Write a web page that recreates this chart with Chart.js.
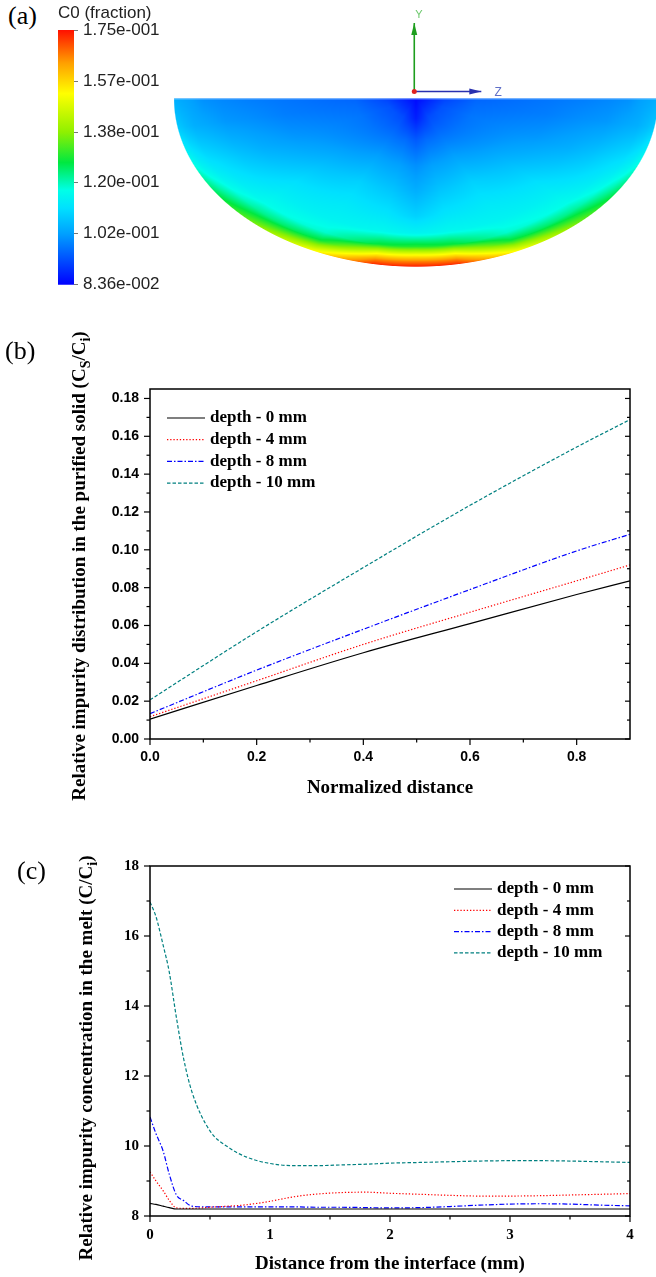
<!DOCTYPE html>
<html>
<head>
<meta charset="utf-8">
<script src="https://cdn.jsdelivr.net/npm/chart.js@4.4.1/dist/chart.umd.min.js"></script>
<style>
  body { margin: 0; background: #fff; }
  #page { position: relative; width: 656px; height: 1277px; overflow: hidden; background: #fff; }
  canvas { position: absolute; }
  .tag { position: absolute; font: 26px/26px 'Liberation Serif', serif; color: #000; }
</style>
</head>
<body>
<div id="page">
  <canvas id="bar" width="130" height="300" style="left:58px;top:0"></canvas>
  <canvas id="pool" width="482" height="270" style="left:174px;top:0"></canvas>
  <canvas id="solid" width="656" height="500" style="left:0;top:310px"></canvas>
  <canvas id="melt" width="656" height="467" style="left:0;top:810px"></canvas>
  <div class="tag" style="left:8px;top:3px">(a)</div>
  <div class="tag" style="left:5px;top:338px">(b)</div>
  <div class="tag" style="left:17px;top:858px">(c)</div>
</div>
<script>
// (a) colour bar ticks and colour map
const cbTicks = [0.0836, 0.1019, 0.1202, 0.1384, 0.1567, 0.175];
const cmapPos = [0, 0.1, 0.2, 0.3, 0.37, 0.48, 0.6, 0.75, 0.87, 1];
const cmapHex = ['#0000ff', '#0050ff', '#00a0ff', '#00e0ff', '#00ffe8', '#00e840', '#90f000', '#ffff00', '#ffa000', '#ff1000'];

// (a) concentration in the pool, read along rays (angle from the downward axis) at fractions of the wall radius
const fieldTheta = [0, 10, 25, 45, 65, 80, 90];
const fieldRho = [0, 0.12, 0.25, 0.4, 0.55, 0.7, 0.8, 0.88, 0.93, 0.97, 1.0];
const ray0 = [0.0845, 0.087, 0.094, 0.100, 0.104, 0.109, 0.115, 0.130, 0.152, 0.166, 0.174];
const ray10 = [0.0845, 0.089, 0.096, 0.102, 0.107, 0.112, 0.116, 0.128, 0.150, 0.165, 0.173];
const ray25 = [0.0845, 0.092, 0.097, 0.103, 0.109, 0.113, 0.115, 0.119, 0.128, 0.142, 0.152];
const ray45 = [0.0845, 0.093, 0.097, 0.101, 0.106, 0.111, 0.114, 0.117, 0.122, 0.129, 0.134];
const ray65 = [0.0845, 0.093, 0.097, 0.099, 0.101, 0.104, 0.107, 0.110, 0.112, 0.115, 0.119];
const ray80 = [0.0845, 0.092, 0.096, 0.097, 0.098, 0.100, 0.101, 0.103, 0.104, 0.106, 0.108];
const ray90 = [0.0845, 0.091, 0.095, 0.096, 0.097, 0.098, 0.099, 0.100, 0.102, 0.103, 0.104];
const fieldRows = [ray0, ray10, ray25, ray45, ray65, ray80, ray90];

// legend labels
const depthLabels = ['depth - 0 mm', 'depth - 4 mm', 'depth - 8 mm', 'depth - 10 mm'];

// (b) purified solid
const distB = [0, 0.2, 0.4, 0.6, 0.8, 0.9];
const solid0 = [0.0105, 0.0283, 0.0456, 0.0610, 0.0764, 0.0836];
const solid4 = [0.0118, 0.0308, 0.0500, 0.0670, 0.0836, 0.0920];
const solid8 = [0.0134, 0.0364, 0.0580, 0.0790, 0.0994, 0.1082];
const solid10 = [0.0207, 0.0567, 0.0906, 0.1235, 0.1543, 0.1688];
const ticksBX = [0, 0.2, 0.4, 0.6, 0.8];
const minorBX = [0.1, 0.3, 0.5, 0.7];
const ticksBY = [0, 0.02, 0.04, 0.06, 0.08, 0.10, 0.12, 0.14, 0.16, 0.18];
const minorBY = [0.01, 0.03, 0.05, 0.07, 0.09, 0.11, 0.13, 0.15, 0.17];

// (c) melt
const distC = [0, 0.05, 0.11, 0.16, 0.22, 0.28, 0.35, 0.5, 0.65, 0.8, 1.0, 1.2, 1.4, 1.6, 1.8, 2.0, 2.25, 2.5, 2.75, 3.0, 3.25, 3.5, 3.75, 4.0];
const melt0 = [8.36, 8.33, 8.28, 8.24, 8.20, 8.20, 8.20, 8.20, 8.20, 8.20, 8.20, 8.20, 8.20, 8.20, 8.20, 8.20, 8.20, 8.20, 8.20, 8.20, 8.20, 8.20, 8.20, 8.20];
const melt4 = [9.26, 9.00, 8.72, 8.45, 8.23, 8.22, 8.22, 8.25, 8.28, 8.32, 8.42, 8.55, 8.63, 8.67, 8.68, 8.65, 8.62, 8.59, 8.57, 8.57, 8.58, 8.60, 8.62, 8.64];
const melt8 = [10.83, 10.35, 9.85, 9.20, 8.60, 8.44, 8.28, 8.26, 8.26, 8.26, 8.26, 8.26, 8.25, 8.25, 8.24, 8.23, 8.24, 8.27, 8.31, 8.34, 8.35, 8.34, 8.31, 8.29];
const melt10 = [16.97, 16.55, 15.73, 14.98, 13.67, 12.50, 11.54, 10.43, 9.97, 9.69, 9.50, 9.44, 9.44, 9.46, 9.48, 9.51, 9.53, 9.55, 9.57, 9.58, 9.58, 9.57, 9.55, 9.53];
const ticksCX = [0, 1, 2, 3, 4];
const minorCX = [0.5, 1.5, 2.5, 3.5];
const ticksCY = [8, 10, 12, 14, 16, 18];
const minorCY = [9, 11, 13, 15, 17];

const lineColors = ['#000000', '#ff0000', '#0000ff', '#008080'];
const lineDash = [[], [1.3, 1.9], [5, 2, 1.5, 2], [3.5, 2]];

const hexRgb = h => [1, 3, 5].map(i => parseInt(h.substr(i, 2), 16));
const cmapRgb = cmapHex.map(hexRgb);
const clamp01 = v => Math.max(0, Math.min(1, v));

function colorAt(v) {
  const f = clamp01((v - cbTicks[0]) / (cbTicks[cbTicks.length - 1] - cbTicks[0]));
  let i = 0;
  while (i < cmapPos.length - 2 && f > cmapPos[i + 1]) i++;
  const t = clamp01((f - cmapPos[i]) / (cmapPos[i + 1] - cmapPos[i]));
  return cmapRgb[i].map((c, k) => Math.round(c + (cmapRgb[i + 1][k] - c) * t));
}

function fieldValue(rho, theta) {
  let ti = 0;
  while (ti < fieldTheta.length - 2 && theta > fieldTheta[ti + 1]) ti++;
  let ri = 0;
  while (ri < fieldRho.length - 2 && rho > fieldRho[ri + 1]) ri++;
  const ft = clamp01((theta - fieldTheta[ti]) / (fieldTheta[ti + 1] - fieldTheta[ti]));
  const fr = clamp01((rho - fieldRho[ri]) / (fieldRho[ri + 1] - fieldRho[ri]));
  const a = fieldRows[ti][ri] * (1 - fr) + fieldRows[ti][ri + 1] * fr;
  const b = fieldRows[ti + 1][ri] * (1 - fr) + fieldRows[ti + 1][ri + 1] * fr;
  return a * (1 - ft) + b * ft;
}

const sciLabel = v => {
  const [m, e] = v.toExponential(2).split('e');
  const n = parseInt(e, 10);
  return m + 'e' + (n < 0 ? '-' : '+') + String(Math.abs(n)).padStart(3, '0');
};

// ---- (a) colour bar ----
const barTitle = {
  id: 'barTitle',
  afterDraw(chart) {
    const ctx = chart.ctx;
    ctx.save();
    ctx.font = '17px "Liberation Sans"';
    ctx.fillStyle = '#222';
    ctx.textBaseline = 'middle';
    ctx.fillText('C0 (fraction)', 0, 13);
    ctx.restore();
  }
};

new Chart(document.getElementById('bar'), {
  type: 'bar',
  data: {
    labels: ['C0'],
    datasets: [{
      data: [[cbTicks[0], cbTicks[cbTicks.length - 1]]],
      backgroundColor: (c) => {
        const area = c.chart.chartArea;
        if (!area) return '#00e0ff';
        const g = c.chart.ctx.createLinearGradient(0, area.bottom, 0, area.top);
        cmapPos.forEach((p, i) => g.addColorStop(p, cmapHex[i]));
        return g;
      },
      borderWidth: 0,
      barPercentage: 1,
      categoryPercentage: 1
    }]
  },
  options: {
    responsive: false,
    animation: false,
    layout: { padding: { top: 30, bottom: 12, left: 0, right: 0 } },
    plugins: { legend: { display: false }, tooltip: { enabled: false } },
    scales: {
      x: { display: false },
      y: {
        position: 'right',
        min: cbTicks[0],
        max: cbTicks[cbTicks.length - 1],
        afterFit: s => { s.width = 114; },
        afterBuildTicks: s => { s.ticks = cbTicks.map(v => ({ value: v })); },
        grid: { drawOnChartArea: false, tickLength: 4, color: '#777' },
        border: { display: false },
        ticks: { autoSkip: false, padding: 5, color: '#222', font: { family: 'Liberation Sans', size: 17 }, callback: v => sciLabel(v) }
      }
    }
  },
  plugins: [barTitle]
});

// ---- (a) pool cross-section ----
const poolPlugin = {
  id: 'poolField',
  beforeDatasetsDraw(chart) {
    const { ctx, chartArea: a, scales: { x, y } } = chart;
    const w = Math.round(a.right - a.left), h = Math.round(a.bottom - a.top);
    const img = ctx.getImageData(a.left, a.top, w, h);
    for (let j = 0; j < h; j++) {
      const dv = -y.getValueForPixel(a.top + j + 0.5);
      if (dv < 0) continue;
      for (let i = 0; i < w; i++) {
        const du = x.getValueForPixel(a.left + i + 0.5);
        const rho = Math.hypot(du, dv);
        const alpha = clamp01((1 - rho) * 200 + 0.5);
        if (alpha <= 0) continue;
        const theta = Math.atan2(Math.abs(du), dv) * 180 / Math.PI;
        const [r, g, b] = colorAt(fieldValue(Math.min(rho, 1), theta));
        const k = (j * w + i) * 4;
        img.data[k] = r; img.data[k + 1] = g; img.data[k + 2] = b; img.data[k + 3] = Math.round(alpha * 255);
      }
    }
    ctx.putImageData(img, a.left, a.top);
    // light rim along the free surface
    ctx.save();
    ctx.strokeStyle = 'rgba(180,215,255,0.9)';
    ctx.lineWidth = 1;
    ctx.beginPath();
    ctx.moveTo(x.getPixelForValue(-1), y.getPixelForValue(0) + 0.5);
    ctx.lineTo(a.right, y.getPixelForValue(0) + 0.5);
    ctx.stroke();
    ctx.restore();
  },
  afterDatasetsDraw(chart) {
    const { ctx, scales: { x, y } } = chart;
    const ox = x.getPixelForValue(-0.007), oy = y.getPixelForValue(0.04);
    const arrow = (x2, y2, color, vertical) => {
      ctx.strokeStyle = color; ctx.fillStyle = color; ctx.lineWidth = 1.6;
      ctx.beginPath(); ctx.moveTo(ox, oy); ctx.lineTo(x2, y2); ctx.stroke();
      ctx.beginPath();
      if (vertical) { ctx.moveTo(x2, y2); ctx.lineTo(x2 - 3, y2 + 12); ctx.lineTo(x2 + 3, y2 + 12); }
      else { ctx.moveTo(x2, y2); ctx.lineTo(x2 - 12, y2 - 3); ctx.lineTo(x2 - 12, y2 + 3); }
      ctx.closePath(); ctx.fill();
    };
    ctx.save();
    arrow(ox, y.getPixelForValue(0.447), '#1e9e1e', true);
    arrow(x.getPixelForValue(0.27), oy, '#2830b0', false);
    ctx.fillStyle = '#e02020';
    ctx.beginPath(); ctx.arc(ox, oy, 2.5, 0, Math.PI * 2); ctx.fill();
    ctx.font = '11px "Liberation Sans"';
    ctx.textBaseline = 'middle';
    ctx.fillStyle = '#6cc86c';
    ctx.fillText('Y', ox + 1, y.getPixelForValue(0.495));
    ctx.fillStyle = '#6070c8';
    ctx.font = '12px "Liberation Sans"';
    ctx.fillText('Z', x.getPixelForValue(0.325), oy + 1);
    ctx.restore();
  }
};

new Chart(document.getElementById('pool'), {
  type: 'scatter',
  data: { datasets: [{ data: [], pointRadius: 0 }] },
  options: {
    responsive: false,
    animation: false,
    layout: { padding: 0 },
    plugins: { legend: { display: false }, tooltip: { enabled: false } },
    scales: {
      x: { display: false, min: -1, max: 0.992 },
      y: { display: false, min: -1.0196, max: 0.5837 }
    }
  },
  plugins: [poolPlugin]
});

// ---- shared decoration for (b) and (c) ----
function richText(ctx, parts, cx, cy, size) {
  const fontOf = sub => `bold ${sub ? Math.round(size * 0.72) : size}px "Liberation Serif"`;
  let total = 0;
  parts.forEach(([t, sub]) => { ctx.font = fontOf(sub); total += ctx.measureText(t).width; });
  ctx.save();
  ctx.translate(cx, cy);
  ctx.rotate(-Math.PI / 2);
  ctx.textAlign = 'left';
  ctx.textBaseline = 'alphabetic';
  let pos = -total / 2;
  parts.forEach(([t, sub]) => {
    ctx.font = fontOf(sub);
    ctx.fillText(t, pos, sub ? size * 0.24 : 0);
    pos += ctx.measureText(t).width;
  });
  ctx.restore();
}

const deco = {
  id: 'deco',
  afterDraw(chart, args, o) {
    const { ctx, chartArea: a, scales: { x, y } } = chart;
    ctx.save();
    ctx.strokeStyle = '#000';
    ctx.lineWidth = 1.5;
    ctx.strokeRect(a.left, a.top, a.right - a.left, a.bottom - a.top);
    ctx.lineWidth = 1.2;
    const seg = (x1, y1, x2, y2) => { ctx.beginPath(); ctx.moveTo(x1, y1); ctx.lineTo(x2, y2); ctx.stroke(); };
    o.majorX.forEach(v => { const p = x.getPixelForValue(v); seg(p, a.bottom, p, a.bottom + 6); });
    o.minorX.forEach(v => { const p = x.getPixelForValue(v); seg(p, a.bottom, p, a.bottom + 3.5); });
    o.majorY.forEach(v => { const p = y.getPixelForValue(v); seg(a.left - 6, p, a.left, p); seg(a.right, p, a.right - 5, p); });
    o.minorY.forEach(v => { const p = y.getPixelForValue(v); seg(a.left - 3.5, p, a.left, p); seg(a.right, p, a.right - 3, p); });

    // legend
    chart.data.datasets.forEach((ds, i) => {
      const ly = o.legendY + i * o.legendDy;
      ctx.save();
      ctx.strokeStyle = ds.borderColor;
      ctx.lineWidth = ds.borderWidth;
      ctx.setLineDash(ds.borderDash);
      seg(o.legendX1, ly, o.legendX2, ly);
      ctx.restore();
      ctx.font = 'bold 17px "Liberation Serif"';
      ctx.fillStyle = '#000';
      ctx.textBaseline = 'middle';
      ctx.textAlign = 'left';
      ctx.fillText(ds.label, o.legendX2 + 5, ly);
    });

    // axis titles
    ctx.fillStyle = '#000';
    ctx.font = 'bold 19px "Liberation Serif"';
    ctx.textAlign = 'center';
    ctx.textBaseline = 'alphabetic';
    ctx.fillText(o.xTitle, (a.left + a.right) / 2, o.xTitleY);
    richText(ctx, o.yTitle, o.yTitleX, o.yTitleY, 19);
    ctx.restore();
  }
};

const makeSet = (i, xs, ys) => ({
  label: depthLabels[i],
  data: xs.map((v, k) => ({ x: v, y: ys[k] })),
  borderColor: lineColors[i],
  borderDash: lineDash[i],
  borderWidth: 1.2,
  pointRadius: 0,
  fill: false
});

const axisCommon = (ticks, fmt, font, pad, size, isX) => ({
  type: 'linear',
  afterFit: s => { if (isX) s.height = size; else s.width = size; },
  afterBuildTicks: s => { s.ticks = ticks.map(v => ({ value: v })); },
  grid: { display: false, drawTicks: false },
  border: { display: false },
  ticks: { autoSkip: false, maxRotation: 0, padding: pad, color: '#000', font, callback: fmt }
});

// ---- (b) ----
const fontB = { family: 'Liberation Sans', size: 14, weight: 'bold' };
new Chart(document.getElementById('solid'), {
  type: 'line',
  data: { datasets: [solid0, solid4, solid8, solid10].map((s, i) => makeSet(i, distB, s)) },
  options: {
    responsive: false,
    animation: false,
    layout: { padding: { top: 79, right: 26, left: 0, bottom: 0 } },
    elements: { line: { cubicInterpolationMode: 'monotone' } },
    plugins: {
      legend: { display: false },
      tooltip: { enabled: false },
      deco: {
        majorX: ticksBX, minorX: minorBX, majorY: ticksBY, minorY: minorBY,
        legendX1: 167, legendX2: 205, legendY: 108, legendDy: 21.7,
        xTitle: 'Normalized distance', xTitleY: 483,
        yTitle: [['Relative impurity distribution in the purified solid (C', 0], ['S', 1], ['/C', 0], ['i', 1], [')', 0]],
        yTitleX: 85, yTitleY: 256
      }
    },
    scales: {
      x: Object.assign(axisCommon(ticksBX, v => v.toFixed(1), fontB, 10, 71, true), { min: 0, max: 0.9 }),
      y: Object.assign(axisCommon(ticksBY, v => v.toFixed(2), fontB, 11, 150, false), { min: 0, max: 0.185 })
    }
  },
  plugins: [deco]
});

// ---- (c) ----
const fontC = { family: 'Liberation Serif', size: 15, weight: 'bold' };
new Chart(document.getElementById('melt'), {
  type: 'line',
  data: { datasets: [melt0, melt4, melt8, melt10].map((s, i) => makeSet(i, distC, s)) },
  options: {
    responsive: false,
    animation: false,
    layout: { padding: { top: 56, right: 26, left: 0, bottom: 0 } },
    elements: { line: { cubicInterpolationMode: 'monotone' } },
    plugins: {
      legend: { display: false },
      tooltip: { enabled: false },
      deco: {
        majorX: ticksCX, minorX: minorCX, majorY: ticksCY, minorY: minorCY,
        legendX1: 454, legendX2: 492, legendY: 79, legendDy: 21.3,
        xTitle: 'Distance from the interface (mm)', xTitleY: 459,
        yTitle: [['Relative impurity concentration in the melt (C/C', 0], ['i', 1], [')', 0]],
        yTitleX: 92, yTitleY: 248
      }
    },
    scales: {
      x: Object.assign(axisCommon(ticksCX, v => String(v), fontC, 10, 61, true), { min: 0, max: 4 }),
      y: Object.assign(axisCommon(ticksCY, v => String(v), fontC, 11, 150, false), { min: 8, max: 18 })
    }
  },
  plugins: [deco]
});
</script>
</body>
</html>
